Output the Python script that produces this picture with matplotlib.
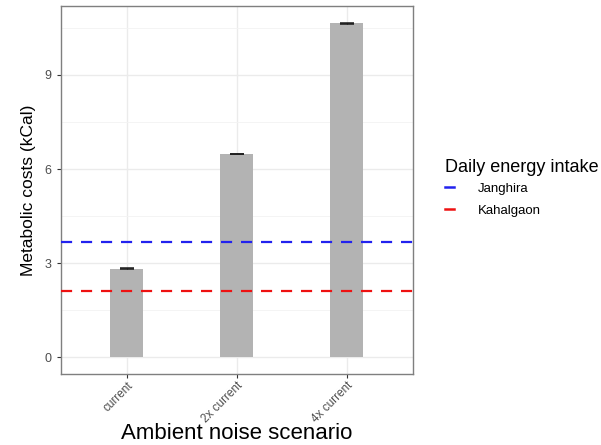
import numpy as np
import matplotlib
matplotlib.use("Agg")
import matplotlib.pyplot as plt
from matplotlib.lines import Line2D

plt.rcParams['font.family'] = ['Liberation Sans', 'DejaVu Sans']

# data
scenarios = ["current", "2x current", "4x current"]
costs = [2.83, 6.48, 10.65]
errors = [0.008, 0.01, 0.01]
intake_names = ["Janghira", "Kahalgaon"]
intake_values = [3.68, 2.13]
intake_colors = ["#2222ee", "#ee1111"]

fig = plt.figure(figsize=(6.01, 4.45), dpi=100)
ax = fig.add_axes([0.1007, 0.1596, 0.586, 0.827])

x = np.arange(1, len(scenarios) + 1)
ax.bar(x, costs, width=0.3, color="#b3b3b3", zorder=2)
ax.errorbar(x, costs, yerr=errors, fmt="none", ecolor="#1a1a1a",
            elinewidth=0.8, capsize=5, capthick=1.1, zorder=3)

for v, c in zip(intake_values, intake_colors):
    ax.axhline(v, color=c, linestyle=(0, (5, 4)), linewidth=1.6, zorder=4)

ax.set_xlim(0.4, 3.6)
ax.set_ylim(-0.53, 11.2)
ax.set_xticks(x)
ax.set_xticklabels(scenarios, rotation=45, ha="right", rotation_mode="anchor",
                   fontsize=8.5, color="#4d4d4d")
ax.set_yticks([0, 3, 6, 9])
ax.set_yticks([1.5, 4.5, 7.5, 10.5], minor=True)
ax.tick_params(axis="y", labelsize=9, labelcolor="#4d4d4d", length=3, color="#333333")
ax.tick_params(axis="x", length=3, color="#333333", pad=1)
ax.tick_params(axis="y", which="minor", length=0)

ax.grid(which="major", color="#ebebeb", linewidth=1.0, zorder=0)
ax.grid(which="minor", axis="y", color="#f3f3f3", linewidth=0.6, zorder=0)
ax.set_axisbelow(True)
for s in ax.spines.values():
    s.set_color("#7f7f7f")
    s.set_linewidth(1)

fig.text(0.393, 0.0125, "Ambient noise scenario", fontsize=16,
         ha="center", va="baseline")
ax.set_ylabel("Metabolic costs (kCal)", fontsize=12.5, labelpad=6)

handles = [Line2D([], [], color=c, linestyle="-", linewidth=1.8)
           for c in intake_colors]
leg = fig.legend(handles, intake_names, title="Daily energy intake",
                 loc="upper left", bbox_to_anchor=(0.72, 0.670),
                 frameon=False, fontsize=9.5, title_fontsize=13,
                 handlelength=0.75, handletextpad=1.75, labelspacing=0.75)
leg._legend_box.align = "left"
leg._legend_box.sep = 5

fig.savefig("out.png", dpi=100)
